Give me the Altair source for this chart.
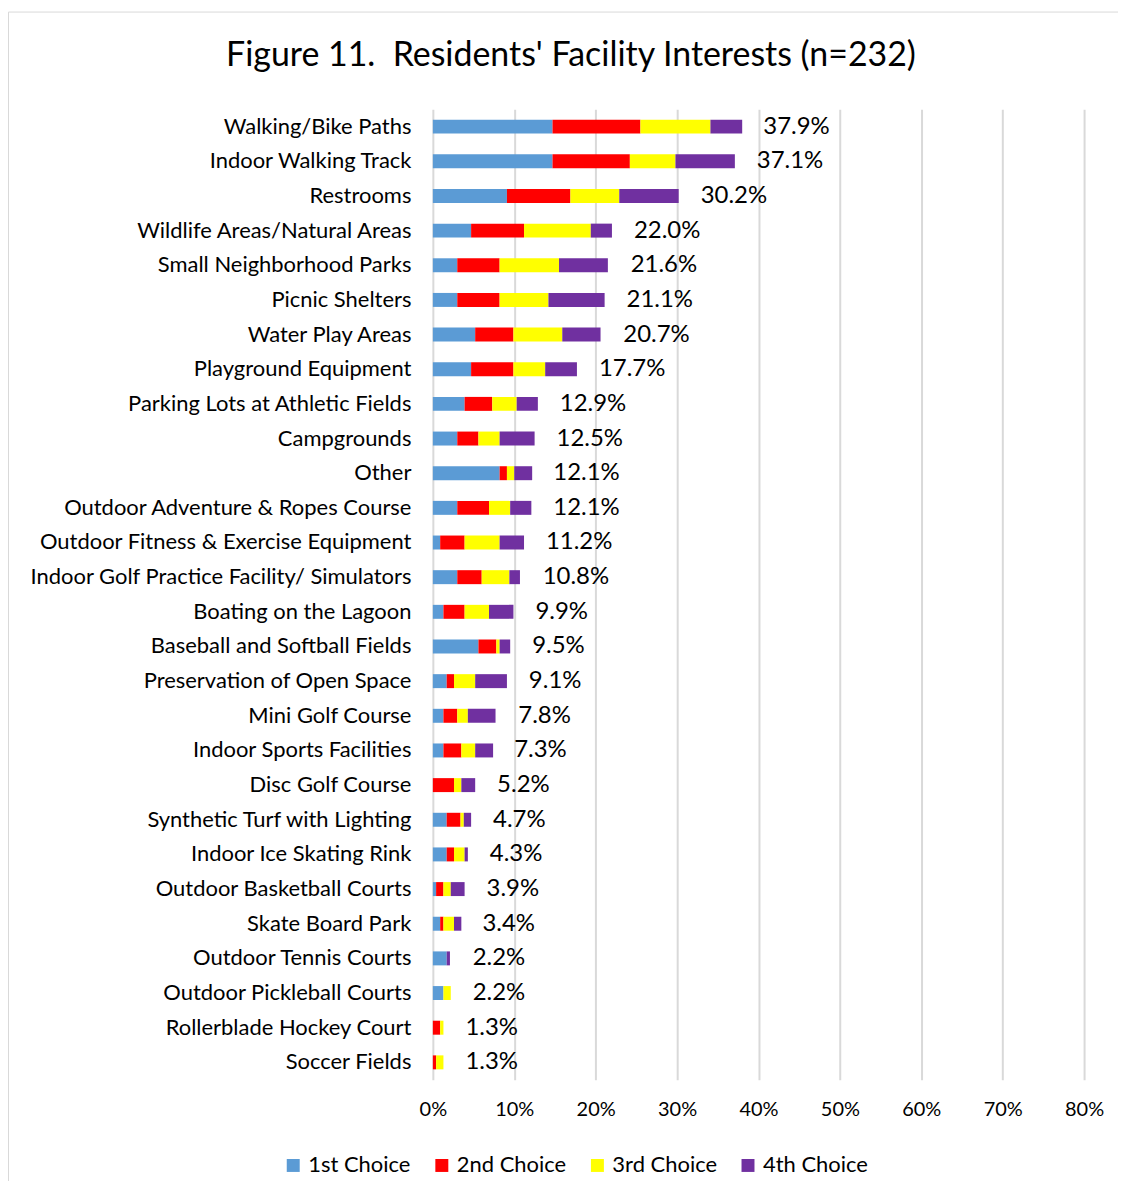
import altair as alt
import pandas as pd

categories = [
    "Walking/Bike Paths", "Indoor Walking Track", "Restrooms",
    "Wildlife Areas/Natural Areas", "Small Neighborhood Parks", "Picnic Shelters",
    "Water Play Areas", "Playground Equipment", "Parking Lots at Athletic Fields",
    "Campgrounds", "Other", "Outdoor Adventure & Ropes Course",
    "Outdoor Fitness & Exercise Equipment", "Indoor Golf Practice Facility/ Simulators",
    "Boating on the Lagoon", "Baseball and Softball Fields", "Preservation of Open Space",
    "Mini Golf Course", "Indoor Sports Facilities", "Disc Golf Course",
    "Synthetic Turf with Lighting", "Indoor Ice Skating Rink", "Outdoor Basketball Courts",
    "Skate Board Park", "Outdoor Tennis Courts", "Outdoor Pickleball Courts",
    "Rollerblade Hockey Court", "Soccer Fields",
]
first_choice = [14.7, 14.7, 9.1, 4.7, 3.0, 3.0, 5.2, 4.7, 3.9, 3.0, 8.2, 3.0, 0.9, 3.0,
                1.3, 5.6, 1.7, 1.3, 1.3, 0.0, 1.7, 1.7, 0.4, 0.9, 1.7, 1.3, 0.0, 0.0]
second_choice = [10.8, 9.5, 7.8, 6.5, 5.2, 5.2, 4.7, 5.2, 3.4, 2.6, 0.9, 3.9, 3.0, 3.0,
                 2.6, 2.2, 0.9, 1.7, 2.2, 2.6, 1.7, 0.9, 0.9, 0.4, 0.0, 0.0, 0.9, 0.4]
third_choice = [8.6, 5.6, 6.0, 8.2, 7.3, 6.0, 6.0, 3.9, 3.0, 2.6, 0.9, 2.6, 4.3, 3.4,
                3.0, 0.4, 2.6, 1.3, 1.7, 0.9, 0.4, 1.3, 0.9, 1.3, 0.0, 0.9, 0.4, 0.9]
fourth_choice = [3.9, 7.3, 7.3, 2.6, 6.0, 6.9, 4.7, 3.9, 2.6, 4.3, 2.2, 2.6, 3.0, 1.3,
                 3.0, 1.3, 3.9, 3.4, 2.2, 1.7, 0.9, 0.4, 1.7, 0.9, 0.4, 0.0, 0.0, 0.0]
totals = [37.9, 37.1, 30.2, 22.0, 21.6, 21.1, 20.7, 17.7, 12.9, 12.5, 12.1, 12.1, 11.2, 10.8,
          9.9, 9.5, 9.1, 7.8, 7.3, 5.2, 4.7, 4.3, 3.9, 3.4, 2.2, 2.2, 1.3, 1.3]
series_names = ["1st Choice", "2nd Choice", "3rd Choice", "4th Choice"]
series_colors = ["#5B9BD5", "#FF0000", "#FFFF00", "#7030A0"]
x_ticks = [0, 10, 20, 30, 40, 50, 60, 70, 80]

rows = []
for i, cat in enumerate(categories):
    for k, vals in enumerate([first_choice, second_choice, third_choice, fourth_choice]):
        rows.append({"category": cat, "choice": series_names[k], "idx": k, "value": vals[i]})
df = pd.DataFrame(rows)
df_tot = pd.DataFrame({"category": categories, "total": totals,
                       "label": [f"{t:.1f}%" for t in totals]})

FONT = "Lato"

xscale = alt.Scale(domain=[0, 80], nice=False)
ysort = categories

bars = alt.Chart(df).mark_bar(size=14).encode(
    y=alt.Y("category:N", sort=ysort, title=None,
            axis=alt.Axis(labelFontSize=22, labelPadding=22, ticks=False, domain=False,
                          labelColor="#000000", labelFont=FONT, labelLimit=500)),
    x=alt.X("sum(value):Q", scale=xscale, title=None,
            axis=alt.Axis(values=x_ticks, labelExpr="datum.value + '%'", labelFontSize=20,
                          labelPadding=20, labelFlush=False, ticks=False, domain=False,
                          grid=True, gridColor="#d9d9d9", gridWidth=2,
                          labelColor="#000000", labelFont=FONT)),
    color=alt.Color("choice:N", scale=alt.Scale(domain=series_names, range=series_colors),
                    legend=alt.Legend(title=None, orient="none", legendX=-151, legendY=1048,
                                      direction="horizontal", symbolType="square",
                                      symbolSize=169, symbolStrokeWidth=0,
                                      labelFontSize=22, labelFont=FONT, labelColor="#000000",
                                      columnPadding=20)),
    order=alt.Order("idx:Q", sort="ascending"),
)

labels = alt.Chart(df_tot).mark_text(align="left", baseline="middle", dx=22,
                                     fontSize=24, font=FONT, color="#000000").encode(
    y=alt.Y("category:N", sort=ysort),
    x=alt.X("total:Q", scale=xscale),
    text="label:N",
)

frame = alt.Chart(df_tot.head(1)).mark_rect(fill="transparent", stroke="#d9d9d9",
                                            strokeWidth=1).encode(
    x=alt.value(-425.5), x2=alt.value(900), y=alt.value(-97.5), y2=alt.value(1200),
)

chart = alt.layer(frame, bars, labels).properties(
    width=653, height=973,
    background="white",
    title=alt.TitleParams("Figure 11.\u00a0 Residents' Facility Interests (n=232)",
                          fontSize=34, font=FONT, fontWeight="normal", color="#000000",
                          anchor="middle", frame="group", dx=-188, offset=-62),
    autosize=alt.AutoSizeParams(type="none"),
    padding={"left": 426, "top": 100, "right": 34, "bottom": 100},
).configure_view(stroke="transparent", strokeWidth=0)

chart.save("out.html", embed_options={"renderer": "svg", "actions": False})
